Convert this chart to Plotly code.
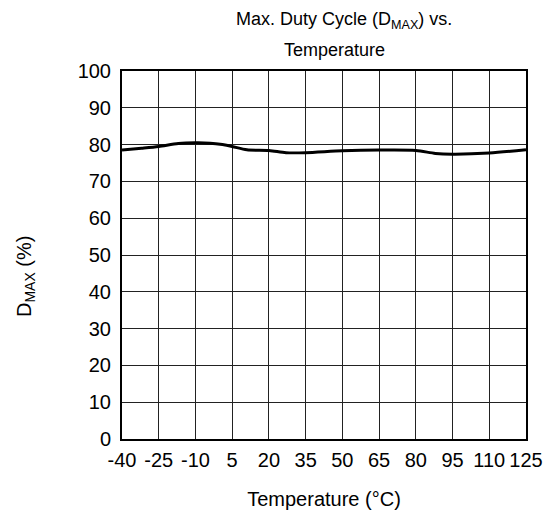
import plotly.graph_objects as go

temps = [-40, -32, -25, -17, -10, -4, 1, 5, 11, 20, 27, 35, 50, 65, 80, 88, 95, 110, 125]
dmax = [78.5, 79.0, 79.5, 80.3, 80.5, 80.4, 80.0, 79.5, 78.6, 78.4, 77.8, 77.8, 78.3, 78.5, 78.4, 77.6, 77.4, 77.7, 78.6]
xticks = [-40, -25, -10, 5, 20, 35, 50, 65, 80, 95, 110, 125]
yticks = [0, 10, 20, 30, 40, 50, 60, 70, 80, 90, 100]

FONT = "Liberation Sans, Arial, sans-serif"

# the page adds an 8px body margin; figure coords = page coords - 8
L, T, PW, PH = 114, 63, 404, 368
W, H = 559, 512

fig = go.Figure()
fig.add_trace(go.Scatter(x=temps, y=dmax, mode="lines",
                         line=dict(color="black", width=3, shape="spline", smoothing=0.8),
                         showlegend=False, hoverinfo="skip"))

def px(xf):
    return (xf - L) / PW

def py(yf):
    return (T + PH - yf) / PH

fig.update_layout(
    width=W, height=H,
    margin=dict(l=L, r=W - L - PW, t=T, b=H - T - PH, autoexpand=False),
    paper_bgcolor="white", plot_bgcolor="white",
    font=dict(family=FONT, size=20, color="black"),
    xaxis=dict(range=[-40, 125], tickvals=xticks, ticktext=[str(v) for v in xticks],
               showgrid=True, gridcolor="#222", gridwidth=1, zeroline=False,
               showline=True, linecolor="black", linewidth=2, mirror=True,
               ticks="outside", ticklen=2, tickcolor="rgba(0,0,0,0)",
               tickfont=dict(family=FONT, size=20),
               title=dict(text="Temperature (°C)", standoff=22,
                          font=dict(family=FONT, size=20))),
    yaxis=dict(range=[0, 100], tickvals=yticks,
               showgrid=True, gridcolor="#222", gridwidth=1, zeroline=False,
               showline=True, linecolor="black", linewidth=2, mirror=True,
               ticks="outside", ticklen=5, tickcolor="rgba(0,0,0,0)",
               tickfont=dict(family=FONT, size=20)),
    annotations=[
        dict(text="Max. Duty Cycle (D<sub>MAX</sub>) vs.", xref="paper", yref="paper",
             x=px(336), y=py(12), xanchor="center", yanchor="middle", showarrow=False,
             font=dict(family=FONT, size=18, color="black")),
        dict(text="Temperature", xref="paper", yref="paper",
             x=px(326), y=py(42), xanchor="center", yanchor="middle", showarrow=False,
             font=dict(family=FONT, size=18, color="black")),
        dict(text="D<sub>MAX</sub> (%)", xref="paper", yref="paper",
             x=px(17), y=py(269), xanchor="center", yanchor="middle",
             textangle=-90, showarrow=False,
             font=dict(family=FONT, size=20, color="black")),
    ],
)

fig.write_html("out.html")
